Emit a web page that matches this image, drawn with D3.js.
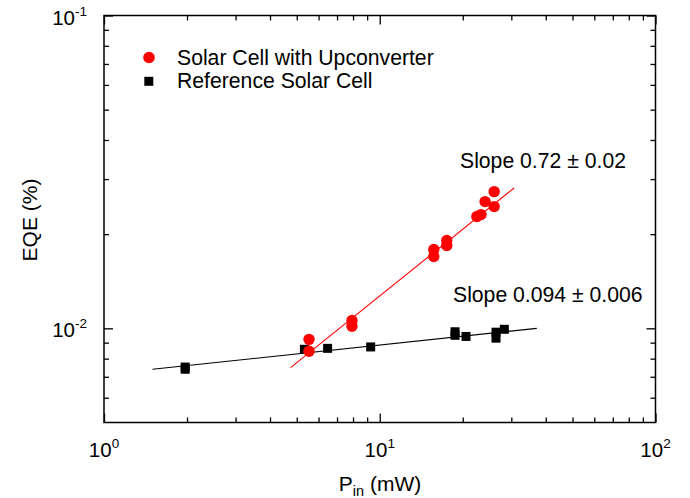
<!DOCTYPE html>
<html>
<head>
<meta charset="utf-8">
<script src="https://cdn.jsdelivr.net/npm/d3@7"></script>
<style>
  body { margin: 0; background: #fff; }
  svg { display: block; font-family: "Liberation Sans", Arial, sans-serif; }
</style>
</head>
<body>
<svg id="chart" width="690" height="498"></svg>
<script>
// ---------- data ----------
const upX = [5.54, 5.54, 7.93, 7.93, 15.7, 15.7, 17.5, 17.5, 22.5, 23.3, 24.1, 26.0, 26.0];
const upY = [0.00922, 0.00845, 0.0106, 0.01015, 0.01786, 0.01697, 0.01909, 0.0184, 0.02277, 0.0231, 0.02542, 0.0245, 0.02735];
const refX = [1.97, 1.97, 5.33, 6.47, 9.27, 18.75, 18.75, 20.55, 26.4, 26.4, 28.3];
const refY = [0.00752, 0.00740, 0.00857, 0.00863, 0.00872, 0.00975, 0.00950, 0.00942, 0.00972, 0.00930, 0.00993];
const upFitX = [4.75, 30.7];
const upFitY = [0.00749, 0.0281];
const refFitX = [1.50, 37.1];
const refFitY = [0.0074, 0.0100];
const xMajor = [1, 10, 100];
const xMajorExp = ["0", "1", "2"];
const yMajor = [0.01, 0.1];
const yMajorExp = ["-2", "-1"];
const legendLabels = ["Solar Cell with Upconverter", "Reference Solar Cell"];
const slopeLabels = ["Slope 0.72 \u00b1 0.02", "Slope 0.094 \u00b1 0.006"];

// ---------- layout ----------
const L = 104, R = 655.5, T = 15.5, B = 422.5;
const svg = d3.select("#chart");
const x = d3.scaleLog().domain([1, 100]).range([L, R]);
const y = d3.scaleLog().domain([0.005, 0.1]).range([B, T]);

const xMinor = [];
[1, 10].forEach(d => { for (let k = 2; k <= 9; k++) xMinor.push(d * k); });
const yMinorU = [0.006, 0.007, 0.008, 0.009, 0.02, 0.03, 0.04, 0.05, 0.06, 0.07, 0.08, 0.09];

function drawAxis(gen, transform, values, size) {
  const g = svg.append("g").attr("transform", transform)
    .call(gen.tickValues(values).tickSize(size).tickFormat(""));
  g.select(".domain").remove();
  g.selectAll(".tick line").attr("stroke", "#000").attr("stroke-width", 1.3);
  g.selectAll("text").remove();
}
drawAxis(d3.axisBottom(x), `translate(0,${B})`, xMajor, -9);
drawAxis(d3.axisBottom(x), `translate(0,${B})`, xMinor, -5);
drawAxis(d3.axisTop(x), `translate(0,${T})`, xMajor, -9);
drawAxis(d3.axisTop(x), `translate(0,${T})`, xMinor, -5);
drawAxis(d3.axisLeft(y), `translate(${L},0)`, yMajor, -9);
drawAxis(d3.axisLeft(y), `translate(${L},0)`, yMinorU, -5);
drawAxis(d3.axisRight(y), `translate(${R},0)`, yMajor, -9);
drawAxis(d3.axisRight(y), `translate(${R},0)`, yMinorU, -5);

svg.append("rect").attr("x", L).attr("y", T).attr("width", R - L).attr("height", B - T)
  .attr("fill", "none").attr("stroke", "#000").attr("stroke-width", 1.5);

xMajor.forEach((v, i) => {
  const t = svg.append("text").attr("x", x(v)).attr("y", 457).attr("text-anchor", "middle")
    .attr("font-size", 20.5).attr("fill", "#000");
  t.append("tspan").text("10");
  t.append("tspan").attr("font-size", 13.5).attr("dy", -9).text(xMajorExp[i]);
});
yMajor.forEach((v, i) => {
  const t = svg.append("text").attr("x", 87).attr("y", y(v) + 9).attr("text-anchor", "end")
    .attr("font-size", 20.5).attr("fill", "#000");
  t.append("tspan").text("10");
  t.append("tspan").attr("font-size", 13.5).attr("dy", -9).text(yMajorExp[i]);
});

const xt = svg.append("text").attr("x", 380).attr("y", 491).attr("text-anchor", "middle")
  .attr("font-size", 21).attr("fill", "#000");
xt.append("tspan").text("P");
xt.append("tspan").attr("font-size", 14.5).attr("dy", 5).text("in");
xt.append("tspan").attr("dy", -5).text(" (mW)");

svg.append("text").attr("transform", "translate(37,220) rotate(-90)").attr("text-anchor", "middle")
  .attr("font-size", 21).attr("fill", "#000").text("EQE (%)");

const line = d3.line().x(d => x(d[0])).y(d => y(d[1]));
svg.append("path").datum(refFitX.map((v, i) => [v, refFitY[i]])).attr("d", line)
  .attr("stroke", "#000").attr("stroke-width", 1.1).attr("fill", "none");
svg.append("path").datum(upFitX.map((v, i) => [v, upFitY[i]])).attr("d", line)
  .attr("stroke", "#ff0000").attr("stroke-width", 1.1).attr("fill", "none");

const sq = 9;
svg.append("g").selectAll("rect").data(refX.map((v, i) => [v, refY[i]])).join("rect")
  .attr("x", d => x(d[0]) - sq / 2).attr("y", d => y(d[1]) - sq / 2)
  .attr("width", sq).attr("height", sq).attr("fill", "#000");
svg.append("g").selectAll("circle").data(upX.map((v, i) => [v, upY[i]])).join("circle")
  .attr("cx", d => x(d[0])).attr("cy", d => y(d[1])).attr("r", 5.7).attr("fill", "#ff0000");

svg.append("circle").attr("cx", 149).attr("cy", 57.5).attr("r", 5.8).attr("fill", "#ff0000");
svg.append("rect").attr("x", 144.3).attr("y", 76.8).attr("width", 9).attr("height", 9).attr("fill", "#000");
svg.append("text").attr("x", 177).attr("y", 65).attr("font-size", 21.2).attr("fill", "#000").text(legendLabels[0]);
svg.append("text").attr("x", 177).attr("y", 88).attr("font-size", 21.2).attr("fill", "#000").text(legendLabels[1]);

svg.append("text").attr("x", 460).attr("y", 168).attr("font-size", 21.2).attr("fill", "#000").text(slopeLabels[0]);
svg.append("text").attr("x", 453).attr("y", 301.5).attr("font-size", 21.2).attr("fill", "#000").text(slopeLabels[1]);
</script>
</body>
</html>
